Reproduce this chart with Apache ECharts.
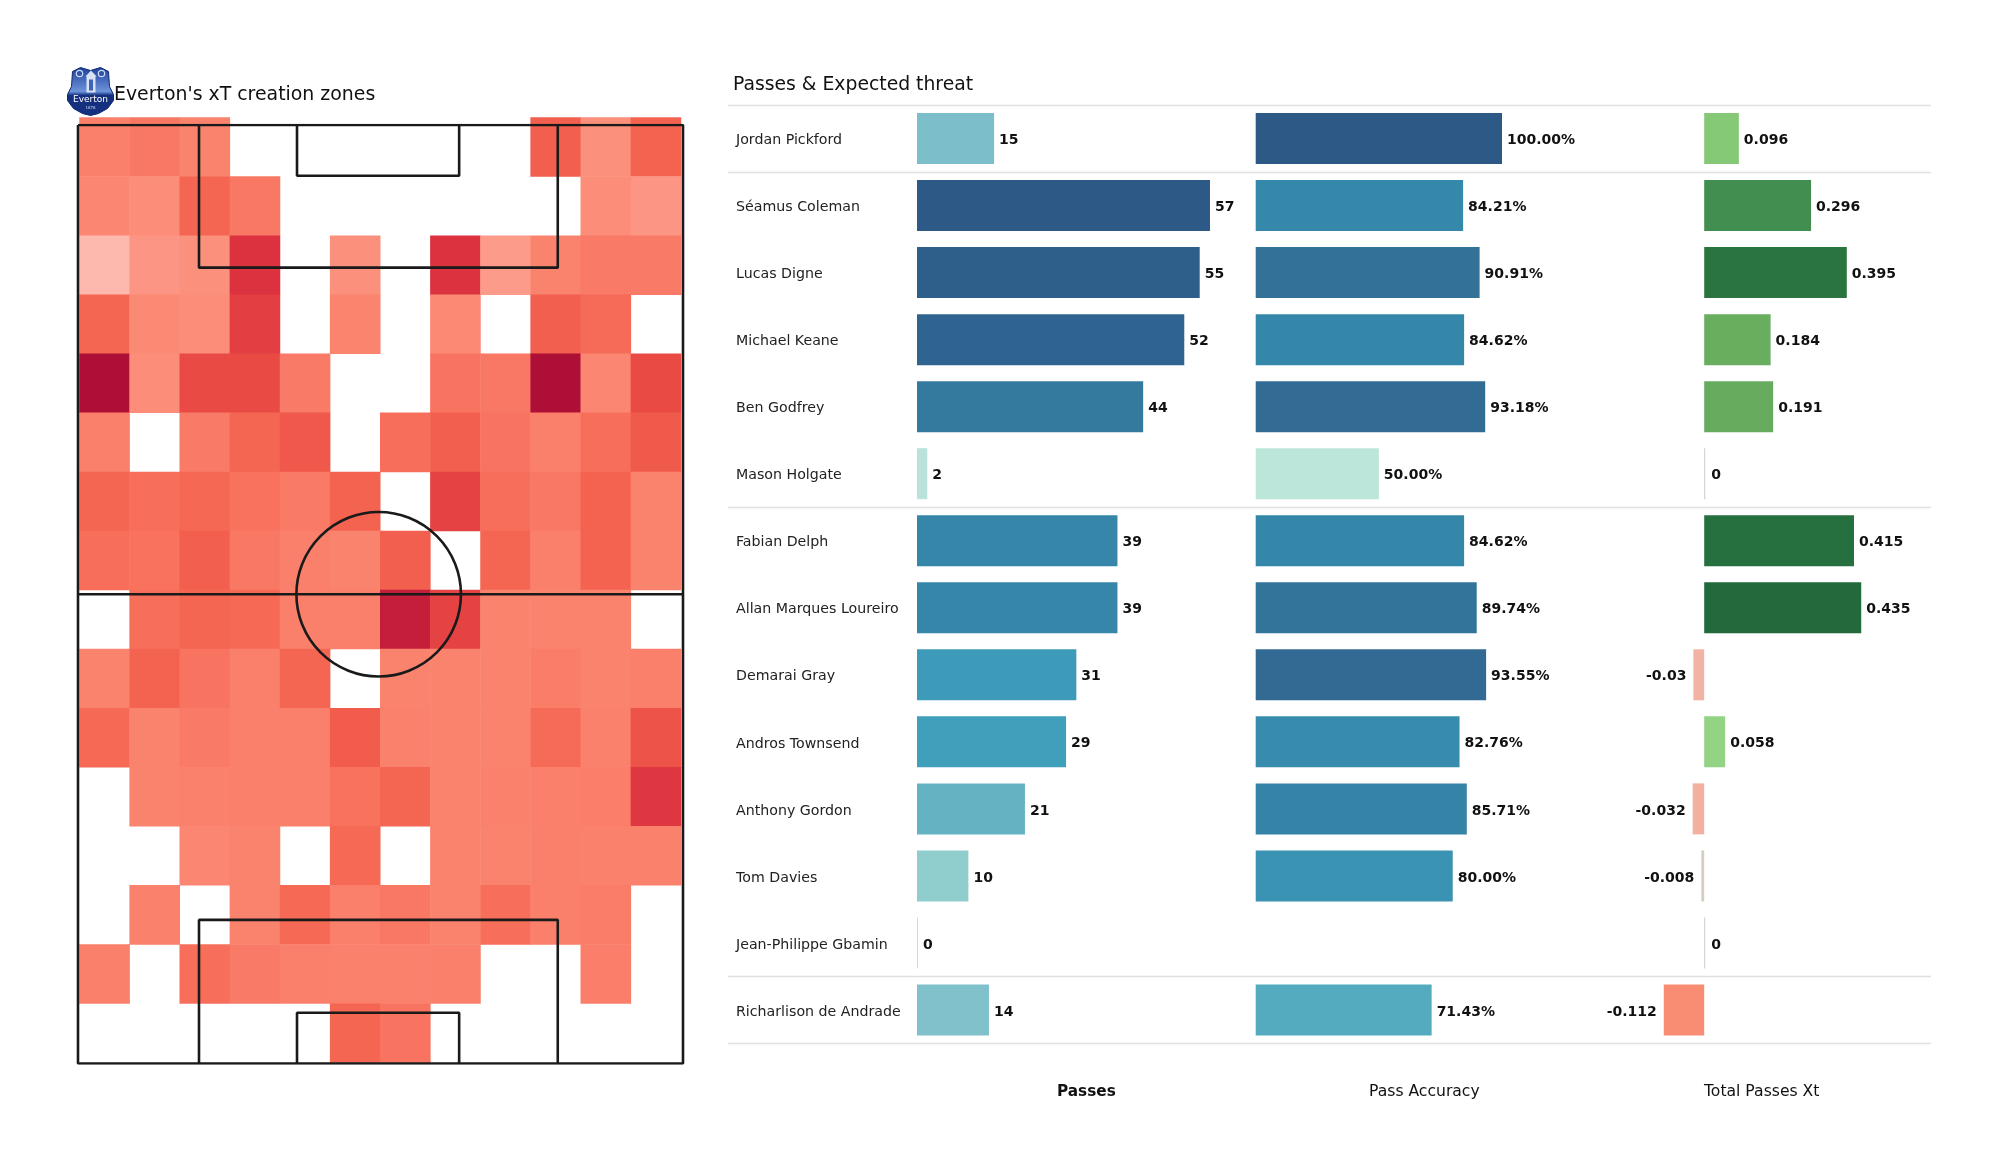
<!DOCTYPE html>
<html>
<head>
<meta charset="utf-8">
<style>html,body{margin:0;padding:0;background:#fff}#c{width:2000px;height:1175px}</style>
<script src="https://cdn.jsdelivr.net/npm/echarts@6/dist/echarts.min.js"></script>
</head>
<body>
<div id="c"></div>
<script>
const players = ['Jordan Pickford','Séamus Coleman','Lucas Digne','Michael Keane','Ben Godfrey','Mason Holgate','Fabian Delph','Allan Marques Loureiro','Demarai Gray','Andros Townsend','Anthony Gordon','Tom Davies','Jean-Philippe Gbamin','Richarlison de Andrade'];
const passes = [15,57,55,52,44,2,39,39,31,29,21,10,0,14];
const accuracy = [100,84.21,90.91,84.62,93.18,50,84.62,89.74,93.55,82.76,85.71,80,null,71.43];
const xT = [0.096,0.296,0.395,0.184,0.191,0,0.415,0.435,-0.03,0.058,-0.032,-0.008,0,-0.112];
const separators = [0,1,6,13,14];

const _ = null;
const heatRows = [
 [30,35,28,_,_,_,_,_,_,52,22,50],
 [25,23,48,35,_,_,_,_,_,_,23,20],
 [ 0,20,22,78,_,22,_,78,18,28,33,33],
 [48,24,23,68,_,27,_,24,_,52,45,_],
 [100,23,62,62,33,_,_,38,35,100,25,62],
 [30,_,33,48,56,_,42,52,38,30,42,55],
 [48,43,47,40,34,50,_,66,42,35,50,28],
 [42,40,52,35,30,28,52,_,48,30,50,28],
 [_,42,48,46,30,30,88,66,28,28,28,_],
 [28,50,38,30,48,_,28,28,28,32,28,30],
 [46,28,33,30,30,54,29,28,28,45,29,58],
 [_,28,29,30,30,40,48,28,29,30,31,74],
 [_,_,26,28,_,46,_,28,28,30,29,29],
 [_,29,_,28,46,30,35,28,42,30,32,_],
 [30,_,42,33,30,29,29,30,_,_,31,_],
 [_,_,_,_,_,48,38,_,_,_,_,_]
];
const heatCols = ['0','1','2','3','4','5','6','7','8','9','10','11'];
const heatRowNames = heatRows.map((r,i)=>String(i));

// pitch drawn in its own 0-100 axes
const pitchLines = [
 [[0,0],[100,0],[100,100],[0,100],[0,0]],
 [[0,50],[100,50]],
 [[20,0],[20,15.2],[79.3,15.2],[79.3,0]],
 [[36.2,0],[36.2,5.4],[63,5.4],[63,0]],
 [[20,100],[20,84.7],[79.3,84.7],[79.3,100]],
 [[36.2,100],[36.2,94.6],[63,94.6],[63,100]]
];
const centreCircle = [[49.7,50,13.6]];

const heatStops = [[0,'#feb9ae'],[18,'#fc9b8a'],[25,'#fb8772'],[30,'#fa806b'],[35,'#f97864'],[42,'#f76f5b'],[48,'#f56652'],[55,'#f05a4b'],[62,'#e94a44'],[70,'#e13b41'],[78,'#dc3240'],[88,'#c51e3b'],[100,'#ae0f36']];
const blueStops = [[0,'#c4e8dd'],[2,'#b9e3da'],[10,'#90cdcd'],[14,'#80c1cc'],[21,'#64b3c3'],[29,'#40a0bc'],[31,'#3d9ab8'],[39,'#3586a8'],[44,'#347a9f'],[52,'#306490'],[55,'#2e5e8a'],[57,'#2c5985']];
const accStops = [[50,'#bde6db'],[71.43,'#54abc0'],[80,'#3b93b3'],[84.6,'#3587a9'],[89.74,'#33749b'],[93.5,'#326a93'],[100,'#2c5985']];
const xTStops = [[-0.112,'#f98d74'],[-0.032,'#f3b0a0'],[-0.008,'#d5cfc0'],[0,'#cccccc'],[0.058,'#93d484'],[0.096,'#85c876'],[0.184,'#69ae5f'],[0.296,'#428e50'],[0.395,'#2a743f'],[0.435,'#226a3c']];

function ramp(stops,v){
  if(v<=stops[0][0]) return stops[0][1];
  for(let i=1;i<stops.length;i++){
    if(v<=stops[i][0]){
      const [a,ca]=stops[i-1],[b,cb]=stops[i],t=(v-a)/(b-a);
      const p=c=>[1,3,5].map(k=>parseInt(c.substr(k,2),16));
      const A=p(ca),B=p(cb);
      return 'rgb('+A.map((x,j)=>Math.round(x+(B[j]-x)*t)).join(',')+')';
    }
  }
  return stops[stops.length-1][1];
}

const FONT='DejaVu Sans';
const TOP=105, H=938.5;
const heatData=[];
heatRows.forEach((row,r)=>row.forEach((v,c)=>{
  if(v!==null) heatData.push({value:[c,r,v],itemStyle:{color:ramp(heatStops,v)}});
}));

const barLabel={show:true,position:'right',distance:5,offset:[0,2],fontFamily:FONT,fontSize:14,fontWeight:'bold',color:'#111'};
function hiddenCat(gridIndex){return {type:'category',gridIndex,data:players,inverse:true,axisLine:{show:false},axisTick:{show:false},axisLabel:{show:false},splitLine:{show:false}};}
function hiddenVal(gridIndex,min,max){return {type:'value',gridIndex,min,max,axisLine:{show:false},axisTick:{show:false},axisLabel:{show:false},splitLine:{show:false}};}

const option={
 animation:false,
 backgroundColor:'#fff',
 title:[
  {text:"Everton's xT creation zones",left:109,top:81,textStyle:{fontFamily:FONT,fontSize:18.9,fontWeight:'normal',color:'#111'}},
  {text:'Passes & Expected threat',left:728,top:71,textStyle:{fontFamily:FONT,fontSize:18.8,fontWeight:'normal',color:'#111'}},
  {text:'Passes',left:1052,top:1080,textStyle:{fontFamily:FONT,fontSize:15.3,fontWeight:'bold',color:'#111'}},
  {text:'Pass Accuracy',left:1364,top:1079,textStyle:{fontFamily:FONT,fontSize:15.6,fontWeight:'normal',color:'#111'}},
  {text:'Total Passes Xt',left:1699,top:1079,textStyle:{fontFamily:FONT,fontSize:15.6,fontWeight:'normal',color:'#111'}}
 ],
 grid:[
  {left:79.5,top:117.5,width:601.5,height:945,containLabel:false},
  {left:78,top:125,width:605,height:938.5},
  {left:917,top:TOP,width:308.4,height:H},
  {left:1255.7,top:TOP,width:246.3,height:H},
  {left:1632,top:TOP,width:252.7,height:H},
  {left:728,top:TOP,width:1203,height:H},
  {left:917,top:TOP+2,width:308.4,height:H}
 ],
 xAxis:[
  {type:'category',gridIndex:0,data:heatCols,show:false},
  hiddenVal(1,0,100),
  hiddenVal(2,0,60),
  hiddenVal(3,0,100),
  hiddenVal(4,-0.2,0.5),
  hiddenVal(5,0,1),
  hiddenVal(6,0,60)
 ],
 yAxis:[
  {type:'category',gridIndex:0,data:heatRowNames,inverse:true,show:false},
  Object.assign(hiddenVal(1,0,100),{inverse:true}),
  hiddenCat(2),
  hiddenCat(3),
  hiddenCat(4),
  Object.assign(hiddenVal(5,0,14),{inverse:true}),
  Object.assign(hiddenCat(6),{axisLabel:{show:true,align:'left',margin:181,fontFamily:FONT,fontSize:14.2,color:'#222'}})
 ],
 series:[
  {type:'heatmap',xAxisIndex:0,yAxisIndex:0,data:heatData,silent:true,itemStyle:{borderWidth:0},emphasis:{disabled:true}},
  ...pitchLines.map(pts=>({type:'line',xAxisIndex:1,yAxisIndex:1,data:pts,showSymbol:false,symbol:'none',silent:true,z:5,lineStyle:{color:'#1a1a1a',width:2.6}})),
  {type:'custom',xAxisIndex:1,yAxisIndex:1,data:centreCircle,silent:true,z:5,clip:false,
   renderItem:(p,api)=>{const c=api.coord([api.value(0),api.value(1)]);const r=api.size([api.value(2),0])[0];
     return {type:'circle',shape:{cx:c[0],cy:c[1],r},style:{fill:'none',stroke:'#1a1a1a',lineWidth:2.6}};}},
  {type:'bar',xAxisIndex:2,yAxisIndex:2,barWidth:51,barMinHeight:1,label:barLabel,silent:true,
   data:passes.map(v=>({value:v,itemStyle:{color:v===0?'#cfdadb':ramp(blueStops,v)}}))},
  {type:'bar',xAxisIndex:3,yAxisIndex:3,barWidth:51,silent:true,
   label:Object.assign({},barLabel,{formatter:p=>p.value==null?'':p.value.toFixed(2)+'%'}),
   data:accuracy.map(v=>({value:v,itemStyle:{color:v===null?'transparent':ramp(accStops,v)}}))},
  {type:'bar',xAxisIndex:4,yAxisIndex:4,barWidth:51,barMinHeight:1,silent:true,label:barLabel,
   data:xT.map(v=>({value:v,itemStyle:{color:ramp(xTStops,v)},label:v<0?{position:'left',distance:7}:(v===0?{distance:6}:{})}))},
  {type:'line',xAxisIndex:5,yAxisIndex:5,data:[],silent:true,z:1,
   markLine:{silent:true,symbol:'none',label:{show:false},animation:false,
     lineStyle:{color:'#e0e0e0',width:1.4,type:'solid'},
     data:separators.map(y=>({yAxis:y}))}}
 ],
 graphic:[
  {type:'group',left:67,top:67,silent:true,children:[
    {type:'polygon',shape:{points:[[6,5],[14,1],[24,4],[34,1],[42,5],[43,20],[47,28],[47,34],[41,42],[32,47],[24,49],[16,47],[7,42],[1,34],[1,28],[5,20]]},
     style:{fill:{type:'linear',x:0,y:0,x2:0,y2:1,colorStops:[{offset:0,color:'#1c3f9c'},{offset:.5,color:'#6d93d8'},{offset:.58,color:'#14307f'},{offset:1,color:'#14307f'}]},stroke:'#10286e',lineWidth:1}},
    {type:'circle',shape:{cx:13,cy:7,r:3.2},style:{fill:'none',stroke:'#cfdcf2',lineWidth:1.2}},
    {type:'circle',shape:{cx:35,cy:7,r:3.2},style:{fill:'none',stroke:'#cfdcf2',lineWidth:1.2}},
    {type:'rect',shape:{x:20,y:9,width:9,height:17},style:{fill:'#d8e2f4'}},
    {type:'polygon',shape:{points:[[19,10],[24.5,4],[30,10]]},style:{fill:'#d8e2f4'}},
    {type:'rect',shape:{x:22.5,y:13,width:4,height:11},style:{fill:'#3f63b5'}},
    {type:'text',x:24,y:33,style:{text:'Everton',align:'center',verticalAlign:'middle',fontFamily:FONT,fontSize:9,fill:'#fff'}},
    {type:'text',x:24,y:41,style:{text:'1878',align:'center',verticalAlign:'middle',fontFamily:FONT,fontSize:4,fill:'#cfdcf2'}}
  ]}
 ]
};
echarts.init(document.getElementById('c'),null,{renderer:'canvas'}).setOption(option);
</script>
</body>
</html>
